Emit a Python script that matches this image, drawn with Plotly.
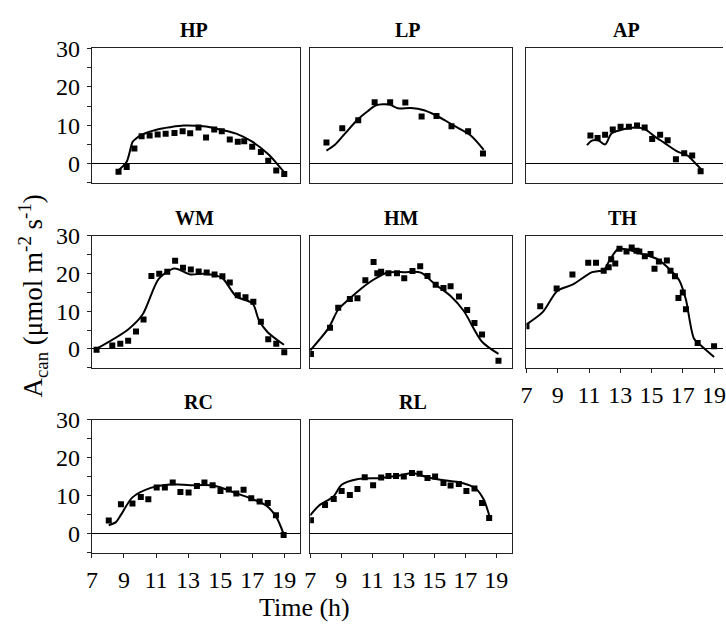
import plotly.graph_objects as go

# ---------------- data ----------------
panel_names = ["HP", "LP", "AP", "WM", "HM", "TH", "RC", "RL"]

hp_obs_t = [8.66, 9.17, 9.65, 10.1, 10.6, 11.1, 11.6, 12.15, 12.66, 13.13, 13.65, 14.12,
            14.63, 15.1, 15.6, 16.1, 16.5, 17.0, 17.54, 18.0, 18.5, 19.0]
hp_obs_a = [-2.1, -0.9, 3.9, 7.1, 7.3, 7.6, 7.8, 8.0, 8.4, 7.9, 9.4, 6.8,
            8.9, 8.4, 6.3, 5.7, 5.8, 4.4, 3.0, 0.75, -1.8, -2.7]
hp_mod_t = [8.62, 9.17, 9.54, 9.75, 10.06, 11.08, 11.9, 12.72, 13.95, 14.77, 16.0, 17.0, 18.04, 18.66, 19.0]
hp_mod_a = [-1.85, 0.5, 5.7, 6.5, 7.4, 8.9, 9.5, 9.9, 9.7, 9.1, 7.8, 5.7, 2.3, -0.6, -2.3]

lp_obs_t = [8.05, 9.07, 10.1, 11.16, 12.16, 13.14, 14.19, 15.15, 16.12, 17.19, 18.15]
lp_obs_a = [5.5, 9.2, 11.3, 16.0, 16.0, 15.9, 12.3, 12.4, 9.7, 8.4, 2.6]
lp_mod_t = [8.05, 8.6, 9.24, 10.1, 10.73, 11.26, 12.1, 12.65, 13.5, 14.35, 15.2, 16.27, 17.34, 18.2]
lp_mod_a = [3.4, 4.9, 7.8, 11.6, 13.7, 15.2, 15.4, 14.4, 14.5, 13.9, 12.4, 9.9, 7.4, 3.6]

ap_obs_t = [11.09, 11.55, 12.03, 12.52, 13.02, 13.55, 14.07, 14.56, 15.04, 15.55, 16.03, 16.56, 17.09, 17.6, 18.14]
ap_obs_a = [7.3, 6.7, 7.5, 8.9, 9.6, 9.6, 9.9, 9.4, 6.4, 7.5, 6.1, 1.1, 2.7, 2.1, -2.0]
ap_mod_t = [10.87, 11.19, 11.61, 12.03, 12.45, 13.08, 13.93, 14.56, 15.19, 15.82, 16.67, 17.3, 17.82, 18.18]
ap_mod_a = [4.8, 6.0, 6.0, 5.0, 7.9, 8.8, 9.4, 9.0, 7.1, 5.4, 3.1, 2.1, 0.0, -1.5]

wm_obs_t = [7.29, 8.27, 8.77, 9.26, 9.75, 10.22, 10.71, 11.2, 11.7, 12.19, 12.68, 13.17,
            13.66, 14.16, 14.65, 15.14, 15.6, 16.1, 16.58, 17.07, 17.54, 18.0, 18.5, 19.0]
wm_obs_a = [-0.2, 0.9, 1.4, 2.2, 4.6, 7.8, 19.3, 19.9, 20.4, 23.3, 21.5, 21.0,
            20.5, 20.2, 19.7, 19.2, 17.6, 14.2, 13.7, 12.5, 7.2, 2.6, 1.35, -0.9]
wm_mod_t = [7.18, 9.24, 10.16, 11.18, 12.15, 13.13, 13.95, 14.77, 15.18, 16.0, 17.03, 17.4, 17.95, 18.98]
wm_mod_a = [-0.2, 5.1, 9.1, 18.6, 21.3, 19.7, 19.9, 19.4, 18.6, 13.9, 12.0, 7.8, 4.5, 1.1]

hm_obs_t = [7.05, 8.28, 8.81, 9.56, 10.05, 10.56, 11.09, 11.33, 11.58, 12.05, 12.6, 13.07,
            13.6, 14.1, 14.57, 15.1, 15.6, 16.06, 16.6, 17.13, 17.6, 18.09, 19.15]
hm_obs_a = [-1.3, 5.6, 10.9, 13.2, 13.4, 18.2, 23.0, 20.0, 20.4, 20.0, 20.0, 18.7,
            20.6, 21.9, 19.3, 17.0, 16.1, 16.6, 13.9, 10.3, 6.9, 3.8, -3.1]
hm_mod_t = [7.0, 8.18, 8.82, 9.46, 10.3, 11.16, 12.0, 13.07, 14.14, 15.0, 16.06, 16.9, 18.09, 19.15]
hm_mod_a = [-0.4, 5.5, 10.5, 13.0, 16.0, 18.5, 20.2, 20.3, 20.2, 17.3, 14.0, 10.1, 1.9, -1.3]

th_obs_t = [7.0, 7.88, 8.93, 9.94, 10.95, 11.45, 11.94, 12.26, 12.42, 12.68, 12.95, 13.4,
            13.73, 14.04, 14.22, 14.57, 14.94, 15.19, 15.47, 15.98, 16.21, 16.5, 16.72,
            17.0, 17.2, 17.95, 19.0]
th_obs_a = [6.0, 11.3, 16.0, 19.7, 22.8, 22.8, 20.7, 21.6, 23.7, 22.6, 26.5, 25.8,
            26.8, 26.0, 25.8, 24.5, 25.1, 21.2, 23.1, 23.4, 20.7, 19.2, 13.5,
            14.9, 10.5, 1.6, 0.75]
th_mod_t = [7.0, 8.05, 8.98, 9.94, 11.2, 11.94, 12.35, 12.88, 13.5, 14.56, 15.4, 16.25,
            16.77, 17.19, 17.72, 18.14, 19.0]
th_mod_a = [6.5, 9.8, 15.4, 17.0, 20.3, 20.9, 23.7, 26.5, 26.2, 24.9, 23.7, 20.7,
            18.2, 13.2, 2.7, 1.0, -2.1]

rc_obs_t = [8.05, 8.81, 9.53, 10.05, 10.52, 11.04, 11.55, 12.04, 12.52, 13.03, 13.55, 14.02,
            14.53, 15.02, 15.54, 16.01, 16.46, 16.94, 17.46, 17.97, 18.48, 18.96]
rc_obs_a = [3.5, 7.8, 8.0, 9.7, 9.1, 12.2, 12.2, 13.5, 11.0, 10.9, 12.6, 13.5,
            12.8, 11.3, 11.7, 10.6, 11.6, 9.4, 8.5, 8.1, 4.9, -0.25]
rc_mod_t = [8.05, 8.5, 8.81, 9.53, 10.67, 11.9, 13.14, 14.58, 16.0, 17.04, 17.86, 18.48, 18.96]
rc_mod_a = [2.3, 3.1, 5.0, 9.6, 12.1, 13.0, 12.8, 12.7, 10.7, 9.1, 7.5, 4.6, 0.0]

rl_obs_t = [7.05, 7.96, 8.52, 9.03, 9.56, 10.05, 10.52, 11.06, 11.58, 12.05, 12.54, 13.04,
            13.57, 14.06, 14.57, 15.06, 15.6, 16.06, 16.59, 17.08, 17.6, 18.09, 18.55]
rl_obs_a = [3.6, 7.6, 9.2, 11.3, 10.2, 11.8, 14.9, 12.8, 14.8, 15.2, 15.2, 15.1,
            16.0, 15.8, 14.7, 15.1, 13.4, 12.7, 13.1, 11.3, 11.9, 8.1, 4.2]
rl_mod_t = [7.0, 7.56, 8.52, 9.03, 10.1, 11.58, 12.86, 13.61, 14.57, 15.63, 16.7, 17.66, 18.19, 18.55]
rl_mod_a = [4.9, 7.4, 9.9, 12.9, 14.4, 14.7, 15.4, 16.0, 14.9, 14.1, 13.5, 12.0, 9.1, 4.9]

obs_t = [hp_obs_t, lp_obs_t, ap_obs_t, wm_obs_t, hm_obs_t, th_obs_t, rc_obs_t, rl_obs_t]
obs_a = [hp_obs_a, lp_obs_a, ap_obs_a, wm_obs_a, hm_obs_a, th_obs_a, rc_obs_a, rl_obs_a]
mod_t = [hp_mod_t, lp_mod_t, ap_mod_t, wm_mod_t, hm_mod_t, th_mod_t, rc_mod_t, rl_mod_t]
mod_a = [hp_mod_a, lp_mod_a, ap_mod_a, wm_mod_a, hm_mod_a, th_mod_a, rc_mod_a, rl_mod_a]

y_tickvals = [-5, 0, 5, 10, 15, 20, 25, 30]
y_ticktext = [" ", "0", " ", "10", " ", "20", " ", "30"]
x_tickvals = [7, 9, 11, 13, 15, 17, 19]
x_ticktext = ["7", "9", "11", "13", "15", "17", "19"]

# ---------------- layout geometry (pixels) ----------------
W, H = 726, 636
col_px = [(87, 298), (308, 512), (527, 726)]
row_px = [(37, 177), (232, 370), (424, 563)]
col_xrange = [[7, 20], [7, 20], [7, 7 + (726 - 527) / 15.83]]
title_x_px = [190, 407, 628, 191, 400, 624, 195, 412]

FONT = "Liberation Serif"
TICK_SIZE = 24
AX = "#222"
fig = go.Figure()
layout = dict(
    width=W, height=H, margin=dict(l=0, r=0, t=0, b=0),
    paper_bgcolor="white", plot_bgcolor="white", showlegend=False,
    font=dict(family=FONT, color="black"),
)
annotations = []

xtick_panels = {5, 6, 7}
ytick_panels = {0, 3, 6}
OFF = 20  # index offset for overlay axes drawing the inner half of crossing ticks

for i, name in enumerate(panel_names):
    r, c = divmod(i, 3)
    n = i + 1
    xd = [col_px[c][0] / W, col_px[c][1] / W]
    yd = [1 - row_px[r][1] / H, 1 - row_px[r][0] / H]
    show_x = i in xtick_panels
    show_y = i in ytick_panels
    layout[f"xaxis{n}"] = dict(
        domain=xd, range=col_xrange[c], anchor=f"y{n}",
        showgrid=False, zeroline=False, showline=True, linecolor=AX, linewidth=1,
        mirror=True,
        ticks="outside" if show_x else "", ticklen=4, tickcolor=AX,
        tickvals=x_tickvals, ticktext=x_ticktext, showticklabels=show_x,
        ticklabeloverflow="allow", ticklabelstandoff=1,
        tickfont=dict(family=FONT, size=TICK_SIZE, color="black"),
    )
    layout[f"yaxis{n}"] = dict(
        domain=yd, range=[-5, 30], anchor=f"x{n}",
        showgrid=False, zeroline=True, zerolinecolor="black", zerolinewidth=1,
        showline=True, linecolor=AX, linewidth=1, mirror=(c != 2),
        ticks="outside" if show_y else "", ticklen=4, tickcolor=AX,
        tickvals=y_tickvals, ticktext=y_ticktext, showticklabels=show_y,
        ticklabelstandoff=2,
        tickfont=dict(family=FONT, size=TICK_SIZE, color="black"),
    )
    if show_x:
        layout[f"xaxis{n + OFF}"] = dict(
            domain=xd, range=col_xrange[c], anchor=f"y{n}", overlaying=f"x{n}",
            side="bottom", showgrid=False, zeroline=False, showline=False,
            ticks="inside", ticklen=4, tickcolor=AX, tickvals=x_tickvals,
            showticklabels=False)
    if show_y:
        layout[f"yaxis{n + OFF}"] = dict(
            domain=yd, range=[-5, 30], anchor=f"x{n}", overlaying=f"y{n}",
            side="left", showgrid=False, zeroline=False, showline=False,
            ticks="inside", ticklen=4, tickcolor=AX, tickvals=y_tickvals,
            showticklabels=False)
    fig.add_trace(go.Scatter(
        x=mod_t[i], y=mod_a[i], mode="lines",
        line=dict(color="black", width=2, shape="spline", smoothing=0.8),
        xaxis=f"x{n}", yaxis=f"y{n}", hoverinfo="skip"))
    fig.add_trace(go.Scatter(
        x=obs_t[i], y=obs_a[i], mode="markers",
        marker=dict(symbol="square", size=6, color="black"),
        xaxis=f"x{n}", yaxis=f"y{n}"))
    annotations.append(dict(
        text=f"<b>{name}</b>", xref="paper", yref="paper",
        x=title_x_px[i] / W,
        y=yd[1], xanchor="center", yanchor="bottom", yshift=5, showarrow=False,
        font=dict(family=FONT, size=20, color="black")))

annotations.append(dict(
    text="A<sub>can</sub> (μmol m<sup>-2</sup> s<sup>-1</sup>)",
    xref="paper", yref="paper", x=27 / W, y=1 - 295 / H, textangle=-90,
    xanchor="center", yanchor="middle", showarrow=False,
    font=dict(family=FONT, size=27, color="black")))
annotations.append(dict(
    text="Time (h)", xref="paper", yref="paper", x=302 / W, y=0,
    xanchor="center", yanchor="bottom", yshift=-1, showarrow=False,
    font=dict(family=FONT, size=26, color="black")))

layout["annotations"] = annotations
fig.update_layout(**layout)
fig.write_html(
    "out.html",
    config={"displayModeBar": False},
    post_script="document.body.style.margin='0';document.body.style.padding='0';"
                "document.documentElement.style.overflow='hidden';",
)
